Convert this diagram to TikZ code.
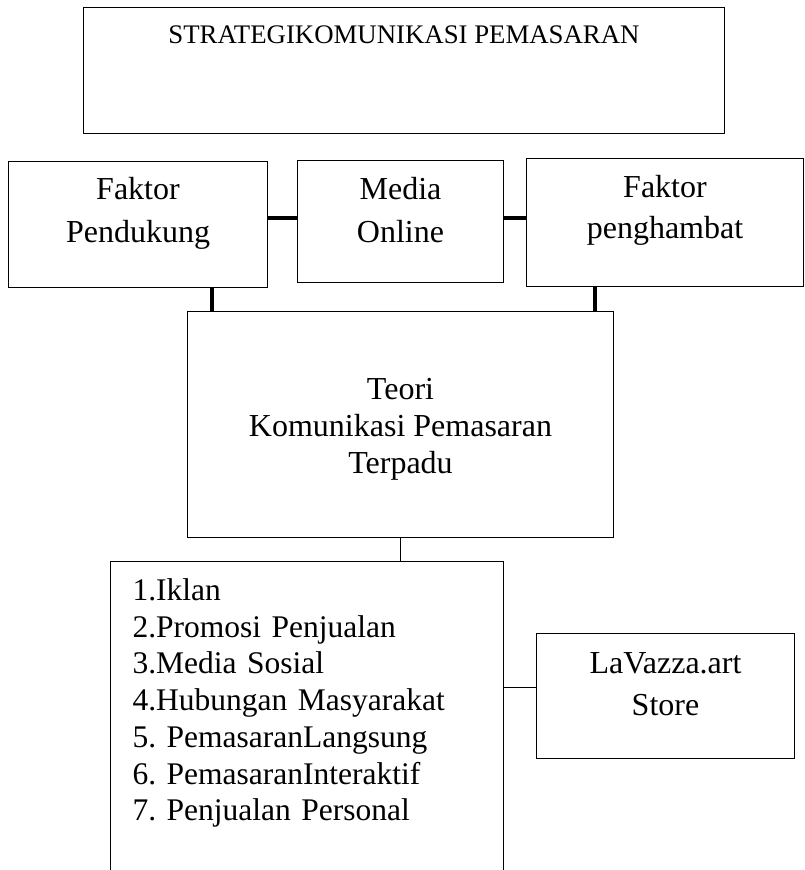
\documentclass[tikz,border=0pt]{standalone}
\usepackage{fontspec}
\setmainfont{Liberation Serif}
\frenchspacing
\usetikzlibrary{positioning, calc}
\tikzstyle{box}       = [rectangle, draw=black, line width=1pt, inner sep=0pt,
                         align=center, anchor=north west,
                         font=\fontsize{32}{43}\selectfont]
\tikzstyle{listbox}   = [rectangle, draw=black, line width=1pt, inner xsep=22pt,
                         inner ysep=0pt, text width=349pt, align=left,
                         anchor=north west, font=\fontsize{31.5}{36.7}\selectfont\frenchspacing]
\tikzstyle{link}      = [line width=1pt]
\tikzstyle{thicklink} = [line width=4pt]

\begin{document}
\begin{tikzpicture}[x=1pt, y=-1pt]
  \clip (0,0) rectangle (804,870);
  \node (strategi) [box, minimum width=641pt, text height=36pt, text depth=90pt,
                    font=\fontsize{26.8}{32}\selectfont] at (83,7) {STRATEGIKOMUNIKASI PEMASARAN};
  \node (pendukung) [box, minimum width=259pt, text height=81pt, text depth=45pt] at (8,161) {Faktor\\Pendukung};
  \node (media) [box, minimum width=206pt, text height=82pt, text depth=40pt] at (297,160) {Media\\Online};
  \node (penghambat) [box, minimum width=277pt, text height=80pt, text depth=48pt,
                      font=\fontsize{32}{41}\selectfont] at (526,158) {Faktor\\penghambat};
  \node (teori) [box, minimum width=426pt, text height=162pt, text depth=64pt,
                 font=\fontsize{32}{37}\selectfont] at (187,311) {Teori\\Komunikasi Pemasaran\\Terpadu};
  \node (daftar) [listbox, text height=39pt, text depth=280pt] at (110,561)
    {1.Iklan\\2.Promosi Penjualan\\3.Media Sosial\\4.Hubungan Masyarakat\\5. PemasaranLangsung\\6. PemasaranInteraktif\\7. Penjualan Personal};
  \node (lavazza) [box, minimum width=258pt, text height=82pt, text depth=43pt,
                   font=\fontsize{32}{42}\selectfont] at (536,633) {LaVazza.art\\Store};

  \draw [thicklink] ([yshift=7pt]pendukung.east) -- ([yshift=7pt]pendukung.east -| media.west);
  \draw [thicklink] ([yshift=4pt]media.east) -- ([yshift=4pt]media.east -| penghambat.west);
  \draw [thicklink] ([xshift=25pt]teori.north west) -- ([xshift=25pt]teori.north west |- pendukung.south);
  \draw [thicklink] ([xshift=-19pt]teori.north east) -- ([xshift=-19pt]teori.north east |- penghambat.south);
  \draw [link] (teori.south) -- (teori.south |- daftar.north);
  \draw [link] ([yshift=8.5pt]lavazza.west) -- ([yshift=8.5pt]lavazza.west -| daftar.east);
\end{tikzpicture}
\end{document}
